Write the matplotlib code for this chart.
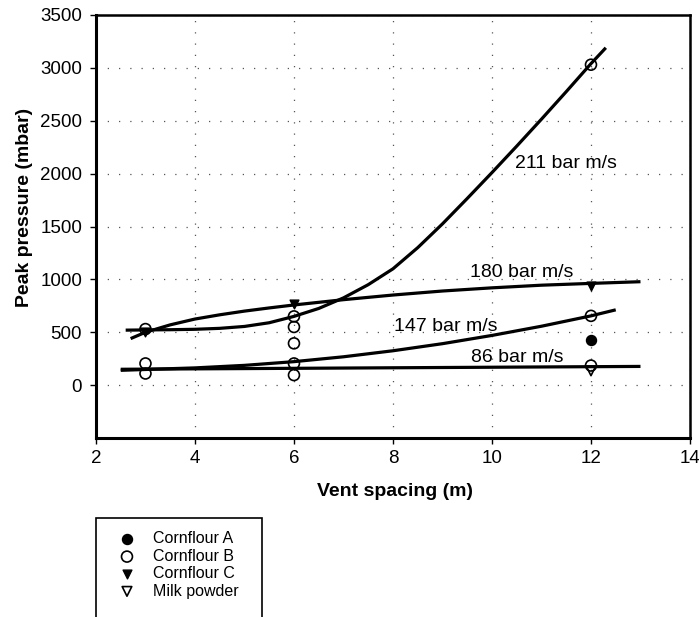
import numpy as np
import matplotlib.pyplot as plt
from matplotlib.patches import Rectangle

plt.rcParams['font.family'] = ['Liberation Sans', 'DejaVu Sans']

# measured peak pressures (mbar) against vent spacing (m)
cf_a_x = [12]
cf_a_y = [425]
cf_b_x = [3, 3, 3, 6, 6, 6, 6, 6, 12, 12, 12]
cf_b_y = [530, 205, 110, 650, 550, 395, 205, 95, 3030, 655, 185]
cf_c_x = [3, 6, 12]
cf_c_y = [505, 765, 935]
milk_x = [12]
milk_y = [135]

# trend lines, one per dust deflagration index
t211_x = [2.6, 3, 3.5, 4, 4.5, 5, 5.5, 6, 6.5, 7, 7.5, 8, 8.5, 9, 9.5, 10, 10.5, 11, 11.5, 12, 12.3]
t211_y = [520, 522, 524, 528, 537, 555, 590, 650, 725, 825, 950, 1100, 1300, 1525, 1765, 2010,
          2260, 2515, 2775, 3040, 3190]
t180_x = [2.7, 3, 3.5, 4, 4.5, 5, 5.5, 6, 7, 8, 9, 10, 11, 12, 13]
t180_y = [440, 500, 570, 625, 665, 700, 730, 758, 808, 852, 890, 920, 945, 962, 978]
t147_x = [2.5, 3, 4, 5, 6, 7, 8, 9, 10, 11, 12, 12.5]
t147_y = [140, 148, 163, 187, 222, 268, 325, 392, 470, 557, 655, 712]
t86_x = [2.5, 13]
t86_y = [150, 177]

curve_labels = ['211 bar m/s', '180 bar m/s', '147 bar m/s', '86 bar m/s']
label_x = [11.5, 10.61, 9.07, 10.51]
label_y = [2100, 1069, 555, 263]

fig = plt.figure(figsize=(6.99, 6.17), dpi=100)
ax = fig.add_axes([0.1373, 0.2901, 0.8498, 0.6856])

for tx, ty in [(t211_x, t211_y), (t180_x, t180_y), (t147_x, t147_y), (t86_x, t86_y)]:
    ax.plot(tx, ty, color='black', lw=2.3, solid_capstyle='butt', zorder=3)

h_a = ax.scatter(cf_a_x, cf_a_y, s=52, marker='o', c='black', zorder=4, label='Cornflour A')
h_b = ax.scatter(cf_b_x, cf_b_y, s=62, marker='o', facecolors='none', edgecolors='black',
                 linewidths=1.2, zorder=4, label='Cornflour B')
h_c = ax.scatter(cf_c_x, cf_c_y, s=40, marker='v', c='black', zorder=4, label='Cornflour C')
h_m = ax.scatter(milk_x, milk_y, s=48, marker='v', facecolors='none', edgecolors='black',
                 linewidths=1.2, zorder=4, label='Milk powder')

for txt, lx, ly in zip(curve_labels, label_x, label_y):
    ax.text(lx, ly, txt, fontsize=14, ha='center', va='center', zorder=5)

ax.set_xlim(2, 14)
ax.set_ylim(-500, 3500)
ax.set_xticks(np.arange(2, 15, 2))
ax.set_yticks(np.arange(0, 3501, 500))
ax.grid(True, color='#555555', linestyle=(0, (1, 8)), linewidth=0.9)
ax.tick_params(direction='out', length=4.5, width=1, labelsize=13.5, colors='black')
ax.tick_params(axis='x', pad=4)
ax.tick_params(axis='y', pad=5.5)
for side in ['left', 'bottom']:
    ax.spines[side].set_linewidth(2.2)
for side in ['top', 'right']:
    ax.spines[side].set_linewidth(1.8)

ax.set_xlabel('Vent spacing (m)', fontsize=14, fontweight='bold')
ax.set_ylabel('Peak pressure (mbar)', fontsize=14, fontweight='bold')
ax.xaxis.set_label_coords(0.503, -0.106)
ax.yaxis.set_label_coords(-0.106, 0.546)

# legend box runs off the bottom of the figure
fig.patches.append(Rectangle((96 / 699, -0.05), 166 / 699, 1 - 518 / 617 + 0.05,
                             transform=fig.transFigure, fill=False, edgecolor='black', lw=1.2))
fig.legend(handles=[h_a, h_b, h_c, h_m], loc='upper left', bbox_to_anchor=(112.6 / 699, 1 - 525 / 617),
           frameon=False, fontsize=11.5, handletextpad=1.1, labelspacing=0.15, borderaxespad=0,
           handlelength=1.0)

fig.savefig('out.png', dpi=100)
